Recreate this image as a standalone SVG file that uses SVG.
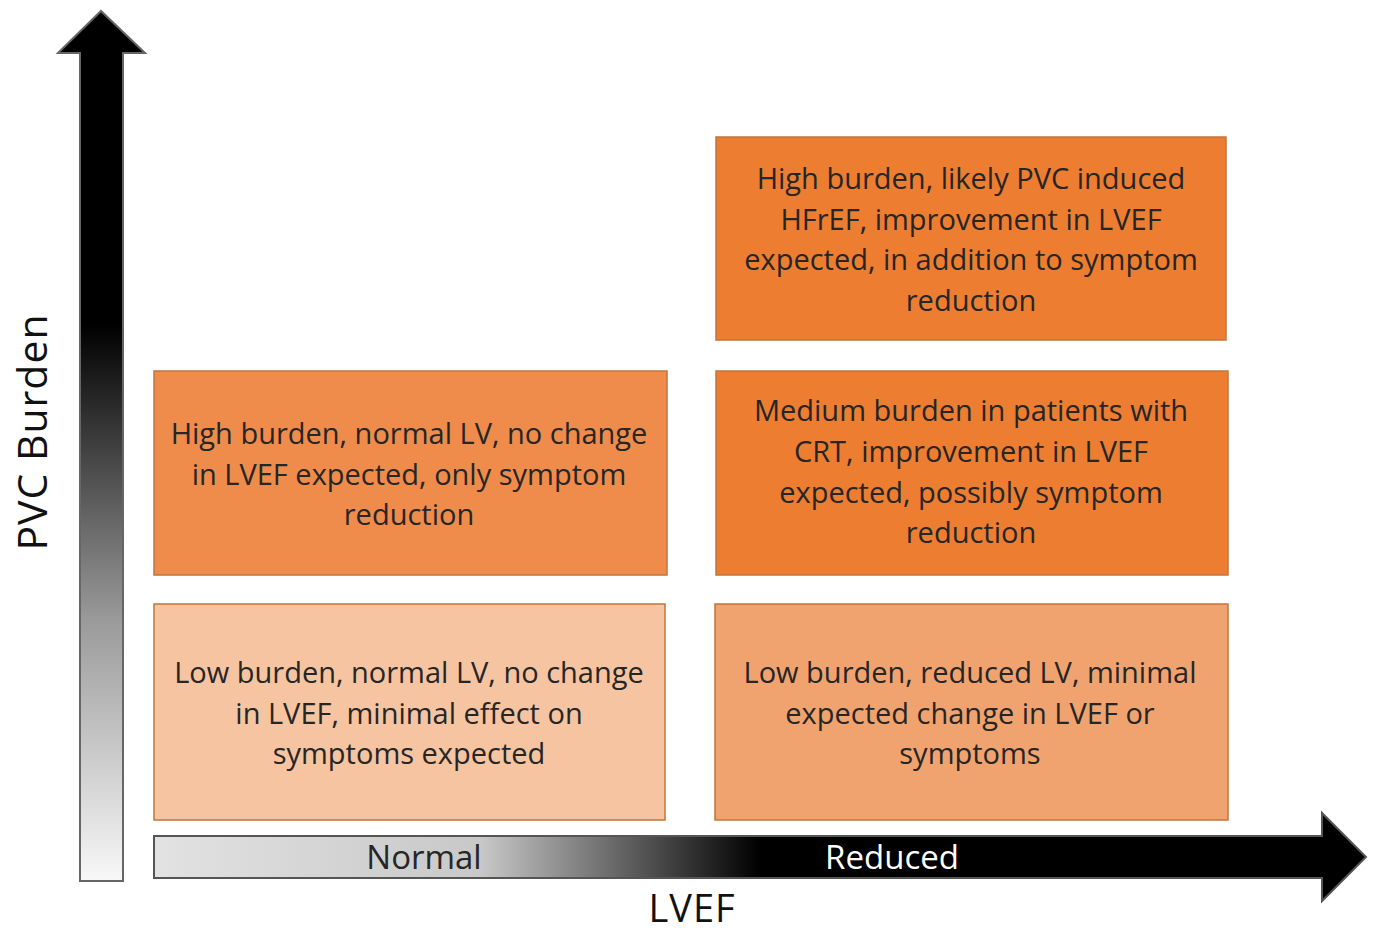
<svg xmlns="http://www.w3.org/2000/svg" width="1373" height="935" viewBox="0 0 1373 935">
<defs>
<linearGradient id="vgrad" x1="0" y1="0" x2="0" y2="1" gradientUnits="objectBoundingBox">
<stop offset="0" stop-color="#000"/>
<stop offset="0.36" stop-color="#000"/>
<stop offset="0.7" stop-color="#9a9a9a"/>
<stop offset="1" stop-color="#f8f8f8"/>
</linearGradient>
<linearGradient id="hgrad" x1="154" y1="0" x2="1366" y2="0" gradientUnits="userSpaceOnUse">
<stop offset="0" stop-color="#e2e2e2"/>
<stop offset="0.27" stop-color="#c8c8c8"/>
<stop offset="0.5" stop-color="#000"/>
<stop offset="1" stop-color="#000"/>
</linearGradient>
<style>
.box{stroke:#c0763a;stroke-width:1.5}
.t{font-family:"Open Sans","Liberation Sans",sans-serif;font-size:29px;fill:#262626;text-anchor:middle}
.ax{font-family:"Open Sans","Liberation Sans",sans-serif;text-anchor:middle}
</style>
</defs>
<rect width="1373" height="935" fill="#fff"/>
<g id="axes">
<path d="M80,881 L80,53 L58,53 L101,11 L145,53 L123,53 L123,881 Z" fill="url(#vgrad)" stroke="#666" stroke-width="2"/>
<path d="M154,836 L1322,836 L1322,813 L1366,857 L1322,901 L1322,878 L154,878 Z" fill="url(#hgrad)" stroke="#555" stroke-width="2"/>
<text class="ax" x="424" y="869" font-size="33" fill="#262626">Normal</text>
<text class="ax" x="892" y="869" font-size="33" fill="#fff">Reduced</text>
<text class="ax" x="692" y="922" font-size="38" letter-spacing="1" fill="#111">LVEF</text>
<text class="ax" transform="translate(47,432) rotate(-90)" font-size="41" letter-spacing="1" fill="#111">PVC Burden</text>
</g>
<g id="box-high-reduced">
<rect class="box" x="716" y="137" width="510" height="203" fill="#ed7d31"/>
<text class="t" x="971" y="189">High burden, likely PVC induced</text>
<text class="t" x="971" y="230">HFrEF, improvement in LVEF</text>
<text class="t" x="971" y="270">expected, in addition to symptom</text>
<text class="t" x="971" y="311">reduction</text>
</g>
<g id="box-high-normal">
<rect class="box" x="154" y="371" width="513" height="204" fill="#f08c4b"/>
<text class="t" x="409" y="444">High burden, normal LV, no change</text>
<text class="t" x="409" y="485">in LVEF expected, only symptom</text>
<text class="t" x="409" y="525">reduction</text>
</g>
<g id="box-medium-reduced">
<rect class="box" x="716" y="371" width="512" height="204" fill="#ed7d31"/>
<text class="t" x="971" y="421">Medium burden in patients with</text>
<text class="t" x="971" y="462">CRT, improvement in LVEF</text>
<text class="t" x="971" y="503">expected, possibly symptom</text>
<text class="t" x="971" y="543">reduction</text>
</g>
<g id="box-low-normal">
<rect class="box" x="154" y="604" width="511" height="216" fill="#f6c4a1"/>
<text class="t" x="409" y="683">Low burden, normal LV, no change</text>
<text class="t" x="409" y="724">in LVEF, minimal effect on</text>
<text class="t" x="409" y="764">symptoms expected</text>
</g>
<g id="box-low-reduced">
<rect class="box" x="715" y="604" width="513" height="216" fill="#f1a36f"/>
<text class="t" x="970" y="683">Low burden, reduced LV, minimal</text>
<text class="t" x="970" y="724">expected change in LVEF or</text>
<text class="t" x="970" y="764">symptoms</text>
</g>
</svg>
